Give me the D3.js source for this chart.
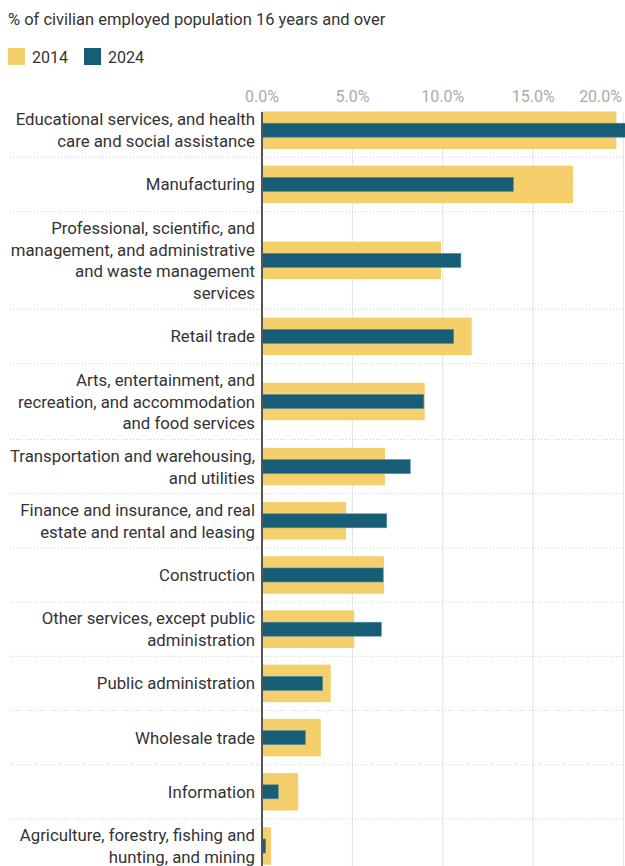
<!DOCTYPE html>
<html>
<head>
<meta charset="utf-8">
<script src="https://cdn.jsdelivr.net/npm/d3@7"></script>
<style>
  html, body { margin: 0; padding: 0; background: #fff; }
  body { width: 625px; height: 866px; overflow: hidden; font-family: Roboto, "Noto Sans", sans-serif; }
</style>
</head>
<body>
<svg id="chart" width="625" height="866"></svg>
<script>
const title = "% of civilian employed population 16 years and over";
const seriesNames = ["2014", "2024"];
const categories = [
  ["Educational services, and health", "care and social assistance"],
  ["Manufacturing"],
  ["Professional, scientific, and", "management, and administrative", "and waste management", "services"],
  ["Retail trade"],
  ["Arts, entertainment, and", "recreation, and accommodation", "and food services"],
  ["Transportation and warehousing,", "and utilities"],
  ["Finance and insurance, and real", "estate and rental and leasing"],
  ["Construction"],
  ["Other services, except public", "administration"],
  ["Public administration"],
  ["Wholesale trade"],
  ["Information"],
  ["Agriculture, forestry, fishing and", "hunting, and mining"]
];
const values2014 = [19.6, 17.2, 9.9, 11.6, 9.0, 6.8, 4.65, 6.75, 5.1, 3.8, 3.25, 2.0, 0.5];
const values2024 = [20.6, 13.9, 11.0, 10.6, 8.95, 8.2, 6.9, 6.7, 6.6, 3.35, 2.4, 0.9, 0.2];
const tickValues = [0, 5, 10, 15, 20];

const colors = { "2014": "#f5cf6b", "2024": "#165d75" };

const svg = d3.select("#chart");
const W = 625;

// Title
svg.append("text")
  .attr("x", 8).attr("y", 25)
  .attr("font-size", 16.5).attr("fill", "#333")
  .text(title);

// Legend
const legendX = [8, 84];
seriesNames.forEach((s, i) => {
  const g = svg.append("g").attr("transform", `translate(${legendX[i]},48)`);
  g.append("rect").attr("width", 17).attr("height", 17).attr("fill", colors[s]);
  g.append("text").attr("x", 24).attr("y", 15).attr("font-size", 16).attr("fill", "#333").text(s);
});

// Layout of rows
const plotTop = 103.1;
const lineH = 21.8;
const rowPad = 10.6;
const rowHeights = categories.map(c => Math.max(c.length, 2) * lineH + rowPad);
const rowTops = [];
let acc = plotTop;
rowHeights.forEach(h => { rowTops.push(acc); acc += h; });

const x = d3.scaleLinear().domain([0, 20]).range([262, 623.6]);
const yRow = d3.scaleOrdinal().domain(d3.range(categories.length)).range(rowTops);

// Gridlines
svg.append("g").selectAll("line").data(tickValues.slice(1)).join("line")
  .attr("x1", d => x(d)).attr("x2", d => x(d))
  .attr("y1", 111).attr("y2", 866)
  .attr("stroke", "#e3e3e3").attr("stroke-width", 1);

// Tick labels
svg.append("g").selectAll("text").data(tickValues).join("text")
  .attr("x", (d, i) => i === tickValues.length - 1 ? x(d) - 23 : x(d))
  .attr("y", 101.5)
  .attr("text-anchor", "middle")
  .attr("font-size", 16).attr("fill", "#aaaaaa")
  .text(d => d.toFixed(1) + "%");

// Separators (dotted)
svg.append("g").selectAll("line").data(d3.range(1, categories.length)).join("line")
  .attr("x1", 10).attr("x2", W)
  .attr("y1", i => yRow(i)).attr("y2", i => yRow(i))
  .attr("stroke", "#cfcfcf").attr("stroke-width", 1)
  .attr("stroke-dasharray", "1,2");

// Bars
const outerH = 37.5, innerH = 14;
const barG = svg.append("g");
barG.selectAll("rect.b2014").data(values2014).join("rect")
  .attr("class", "b2014")
  .attr("x", x(0))
  .attr("y", (d, i) => yRow(i) + rowHeights[i] / 2 - outerH / 2)
  .attr("width", d => x(d) - x(0))
  .attr("height", outerH)
  .attr("fill", colors["2014"]);
barG.selectAll("rect.b2024").data(values2024).join("rect")
  .attr("class", "b2024")
  .attr("x", x(0))
  .attr("y", (d, i) => yRow(i) + rowHeights[i] / 2 - innerH / 2)
  .attr("width", d => x(d) - x(0))
  .attr("height", innerH)
  .attr("fill", colors["2024"])
  .attr("stroke", "#4f8ea3").attr("stroke-width", 0.6);

// Zero axis line
svg.append("line")
  .attr("x1", x(0)).attr("x2", x(0))
  .attr("y1", 112).attr("y2", 866)
  .attr("stroke", "#555").attr("stroke-width", 2);

// Category labels
const labG = svg.append("g");
categories.forEach((lines, i) => {
  const cy = yRow(i) + rowHeights[i] / 2;
  const n = lines.length;
  const t = labG.append("text")
    .attr("text-anchor", "end")
    .attr("font-size", 16.8).attr("fill", "#333");
  lines.forEach((ln, j) => {
    t.append("tspan")
      .attr("x", 255)
      .attr("y", cy + (j - (n - 1) / 2) * lineH)
      .attr("dy", "0.36em")
      .text(ln);
  });
});
</script>
</body>
</html>
